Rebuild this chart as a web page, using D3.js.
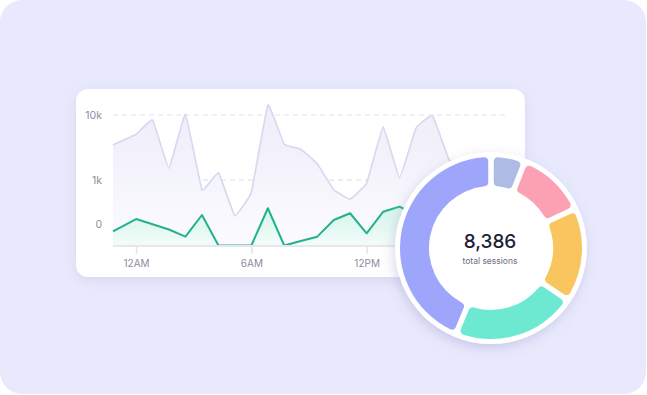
<!DOCTYPE html>
<html>
<head>
<meta charset="utf-8">
<script src="https://cdn.jsdelivr.net/npm/d3@7"></script>
<style>
  body { margin: 0; background: #fff; }
  svg { display: block; font-family: Inter, "Noto Sans", sans-serif; }
</style>
</head>
<body>
<div id="chart"></div>
<script>
// hours since midnight for each point of the line chart
const hours = [-1.2, 0, 0.86, 1.71, 2.57, 3.43, 4.29, 5.14, 6, 6.86, 7.71, 8.57, 9.43,
    10.29, 11.14, 12, 12.86, 13.71, 14.57, 15.43, 16.29, 17.14, 18, 18.86, 19.2];
const pageviews = [3700, 5300, 8500, 1600, 10300, 650, 1350, 100, 580, 13800, 3800, 3200, 1900,
    650, 400, 880, 6800, 1100, 6500, 9800, 2200, 1400, 900, 1200, 1000];
const sessionsLine = [-86, 59, 0, -61, -161, 112, -320, -320, -320, 217, -320, -233, -161,
    47, 137, -111, 161, 246, 112, 60, 140, 90, 180, 120, 150];

const yTicks = [0, 1000, 10000];
const yTickLabels = ["0", "1k", "10k"];
const gridValues = [1000, 10000];
const xTicks = [0, 6, 12];
const xTickLabels = ["12AM", "6AM", "12PM"];

// donut
const sources = ["referral", "social", "email", "search", "direct"];
const sourceSessions = [450, 985, 1370, 1821, 3760];
const sourceColors = ["#adbbe5", "#fca1b3", "#f8c55f", "#6ce9d0", "#9ea6fc"];

const width = 647, height = 395;

const svg = d3.select("#chart")
    .append("svg")
    .attr("width", width)
    .attr("height", height);

const defs = svg.append("defs");

defs.append("filter")
    .attr("id", "cardShadow")
    .attr("x", "-20%").attr("y", "-20%")
    .attr("width", "140%").attr("height", "150%")
    .append("feDropShadow")
    .attr("dx", 0).attr("dy", 3)
    .attr("stdDeviation", 6)
    .attr("flood-color", "#8e90c8")
    .attr("flood-opacity", 0.22);

defs.append("filter")
    .attr("id", "donutShadow")
    .attr("x", "-30%").attr("y", "-30%")
    .attr("width", "160%").attr("height", "160%")
    .append("feDropShadow")
    .attr("dx", -2).attr("dy", 4)
    .attr("stdDeviation", 6)
    .attr("flood-color", "#7d80c0")
    .attr("flood-opacity", 0.3);

const grayFill = defs.append("linearGradient")
    .attr("id", "grayFill")
    .attr("x1", 0).attr("y1", 0).attr("x2", 0).attr("y2", 1);
grayFill.append("stop").attr("offset", "0%").attr("stop-color", "#eeedf9");
grayFill.append("stop").attr("offset", "100%").attr("stop-color", "#fbfbff");

const greenFill = defs.append("linearGradient")
    .attr("id", "greenFill")
    .attr("x1", 0).attr("y1", 0).attr("x2", 0).attr("y2", 1);
greenFill.append("stop").attr("offset", "0%").attr("stop-color", "#d3f4ea");
greenFill.append("stop").attr("offset", "100%").attr("stop-color", "#f3fcf9");

// page background
svg.append("rect")
    .attr("x", 0).attr("y", 0)
    .attr("width", 646).attr("height", 394)
    .attr("rx", 22)
    .attr("fill", "#e9e9fd");

// card
svg.append("rect")
    .attr("x", 76).attr("y", 89)
    .attr("width", 449).attr("height", 188)
    .attr("rx", 12)
    .attr("fill", "#fff")
    .attr("filter", "url(#cardShadow)");

const xScale = d3.scaleLinear()
    .domain([-1.2, 19.2])
    .range([113, 505]);

const yScale = d3.scaleSymlog()
    .constant(335)
    .domain([-330, 10000])
    .range([246, 115]);

const plot = svg.append("g");

plot.selectAll(".grid")
    .data(gridValues)
    .enter()
    .append("line")
    .attr("class", "grid")
    .attr("x1", xScale.range()[0])
    .attr("x2", xScale.range()[1])
    .attr("y1", d => yScale(d))
    .attr("y2", d => yScale(d))
    .attr("stroke", "#e2e2ee")
    .attr("stroke-width", 1.2)
    .attr("stroke-dasharray", "5,4");

const grayCurve = d3.curveCardinal.tension(0.75);

const grayArea = d3.area()
    .x((d, i) => xScale(hours[i]))
    .y0(yScale.range()[0])
    .y1(d => yScale(d))
    .curve(grayCurve);

const grayLine = d3.line()
    .x((d, i) => xScale(hours[i]))
    .y(d => yScale(d))
    .curve(grayCurve);

plot.append("path")
    .datum(pageviews)
    .attr("d", grayArea)
    .attr("fill", "url(#grayFill)");

plot.append("path")
    .datum(pageviews)
    .attr("d", grayLine)
    .attr("fill", "none")
    .attr("stroke", "#d8d9f0")
    .attr("stroke-width", 1.7)
    .attr("stroke-linejoin", "round");

const greenArea = d3.area()
    .x((d, i) => xScale(hours[i]))
    .y0(yScale.range()[0])
    .y1(d => yScale(d));

const greenLine = d3.line()
    .x((d, i) => xScale(hours[i]))
    .y(d => yScale(d));

plot.append("path")
    .datum(sessionsLine)
    .attr("d", greenArea)
    .attr("fill", "url(#greenFill)");

plot.append("path")
    .datum(sessionsLine)
    .attr("d", greenLine)
    .attr("fill", "none")
    .attr("stroke", "#23b28c")
    .attr("stroke-width", 2)
    .attr("stroke-linejoin", "round");

// baseline
plot.append("line")
    .attr("x1", xScale.range()[0])
    .attr("x2", xScale.range()[1])
    .attr("y1", yScale.range()[0])
    .attr("y2", yScale.range()[0])
    .attr("stroke", "#e6e6ef")
    .attr("stroke-width", 2);

const bottomAxis = d3.axisBottom(xScale)
    .tickValues(xTicks)
    .tickFormat((d, i) => xTickLabels[i])
    .tickSize(8)
    .tickPadding(6);

const xAxis = svg.append("g")
    .attr("transform", `translate(0, ${yScale.range()[0]})`)
    .call(bottomAxis);
xAxis.select(".domain").remove();
xAxis.selectAll("line").attr("stroke", "#e3e3ec").attr("stroke-width", 1.5);
xAxis.selectAll("text")
    .attr("fill", "#8b8e9e")
    .attr("font-size", "10px")
    .attr("font-family", "Inter, sans-serif");

const leftAxis = d3.axisLeft(yScale)
    .tickValues(yTicks)
    .tickFormat((d, i) => yTickLabels[i])
    .tickSize(0)
    .tickPadding(11);

const yAxis = svg.append("g")
    .attr("transform", `translate(${xScale.range()[0]}, 0)`)
    .call(leftAxis);
yAxis.select(".domain").remove();
yAxis.selectAll("text")
    .attr("fill", "#8b8e9e")
    .attr("font-size", "10.5px")
    .attr("font-family", "Inter, sans-serif");

// donut
const cx = 491, cy = 248;
const donut = svg.append("g")
    .attr("transform", `translate(${cx}, ${cy})`);

donut.append("circle")
    .attr("r", 96)
    .attr("fill", "#fff")
    .attr("filter", "url(#donutShadow)");

const pie = d3.pie()
    .sort(null)
    .startAngle(0)
    .endAngle(2 * Math.PI)
    .padAngle(0.05);

const arc = d3.arc()
    .innerRadius(62)
    .outerRadius(91)
    .cornerRadius(4);

const color = d3.scaleOrdinal()
    .domain(sources)
    .range(sourceColors);

donut.selectAll(".slice")
    .data(pie(sourceSessions))
    .enter()
    .append("path")
    .attr("class", "slice")
    .attr("d", arc)
    .attr("fill", (d, i) => color(sources[i]));

donut.append("text")
    .attr("x", -1)
    .attr("y", 0)
    .attr("text-anchor", "middle")
    .attr("font-size", "19px")
    .attr("font-weight", 500)
    .attr("fill", "#1d2136")
    .text(d3.format(",")(d3.sum(sourceSessions)));

donut.append("text")
    .attr("x", -1)
    .attr("y", 16)
    .attr("text-anchor", "middle")
    .attr("font-size", "8.5px")
    .attr("fill", "#6c6f82")
    .text("total sessions");
</script>
</body>
</html>
